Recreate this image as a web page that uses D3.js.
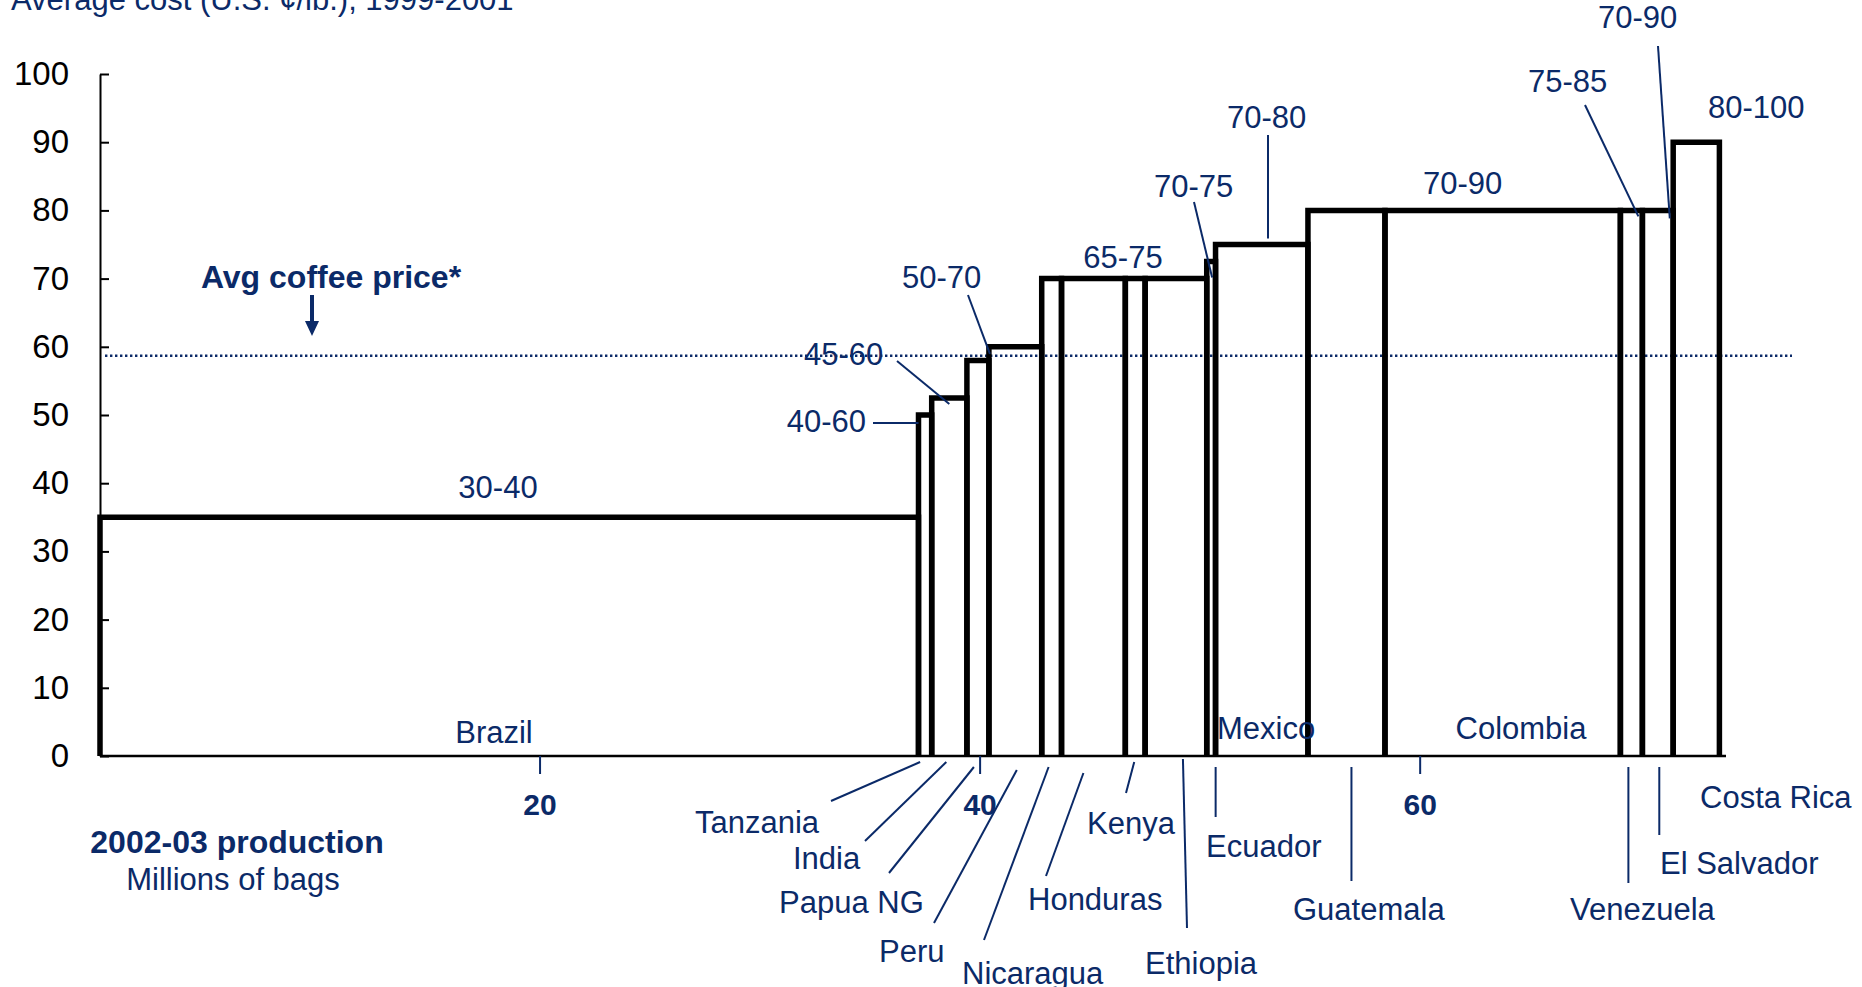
<!DOCTYPE html>
<html>
<head>
<meta charset="utf-8">
<script src="https://cdn.jsdelivr.net/npm/d3@7"></script>
<style>
  html, body { margin: 0; padding: 0; background: #fff; }
  svg { display: block; font-family: "Liberation Sans", Arial, Helvetica, sans-serif; }
</style>
</head>
<body>
<svg id="chart" width="1862" height="987"></svg>
<script>
// Coffee producers, ordered by rising average cost
const countries = ["Brazil", "Tanzania", "India", "Papua NG", "Peru", "Nicaragua", "Honduras",
  "Kenya", "Ethiopia", "Ecuador", "Mexico", "Guatemala", "Colombia", "Venezuela", "El Salvador", "Costa Rica"];
// 2002-03 production, millions of bags (bar widths)
const production = [37.2, 0.6, 1.6, 1.0, 2.4, 0.9, 2.9, 0.9, 2.8, 0.4, 4.2, 3.5, 10.7, 1.0, 1.4, 2.1];
// Average cost, U.S. cents per lb (bar heights = middle of the cost range)
const avgCost = [35, 50, 52.5, 58, 60, 70, 70, 70, 70, 72.5, 75, 80, 80, 80, 80, 90];
// Cost range labels and the producer each one belongs to
const rangeLabels = ["30-40", "40-60", "45-60", "50-70", "65-75", "70-75", "70-80", "70-90", "75-85", "70-90", "80-100"];
const rangeOwners = ["Brazil", "Tanzania", "India", "Peru", "Honduras", "Ecuador", "Mexico", "Colombia", "Venezuela", "El Salvador", "Costa Rica"];
// Average coffee price, U.S. cents per lb
const avgPrice = 58.7;
// Axis ticks
const yTicks = [0, 10, 20, 30, 40, 50, 60, 70, 80, 90, 100];
const xTicks = [20, 40, 60];

const NAVY = "#0b2a68";
const svg = d3.select("#chart");

const x = d3.scaleLinear().domain([0, 73.9]).range([100, 1726]);
const y = d3.scaleLinear().domain([0, 100]).range([756, 74]);

// cumulative production gives each bar's left and right edge
const ends = Array.from(d3.cumsum(production));
const bars = countries.map((c, i) => ({
  country: c,
  x0: i === 0 ? 0 : ends[i - 1],
  x1: ends[i],
  cost: avgCost[i]
}));
const barOf = name => bars.find(b => b.country === name);
const midX = b => x((b.x0 + b.x1) / 2);

// Title (sits partly above the top edge)
svg.append("text")
  .attr("x", 11).attr("y", 9.5)
  .attr("fill", NAVY).attr("font-size", 31)
  .text("Average cost (U.S. \u00a2/lb.), 1999-2001");

// Average price reference line
svg.append("line")
  .attr("x1", 105).attr("x2", 1792)
  .attr("y1", y(avgPrice)).attr("y2", y(avgPrice))
  .attr("stroke", NAVY).attr("stroke-width", 2.5)
  .attr("stroke-dasharray", "2.4,2.6");

svg.append("text")
  .attr("x", 331).attr("y", 288)
  .attr("text-anchor", "middle")
  .attr("fill", NAVY).attr("font-size", 32).attr("font-weight", "bold")
  .text("Avg coffee price*");
svg.append("line")
  .attr("x1", 312).attr("x2", 312).attr("y1", 295).attr("y2", 324)
  .attr("stroke", NAVY).attr("stroke-width", 4);
svg.append("path")
  .attr("d", "M305,321L319,321L312,336Z")
  .attr("fill", NAVY);

// Y axis (ticks point inward)
const yAxis = d3.axisLeft(y).tickValues(yTicks).tickSizeInner(-9).tickSizeOuter(0).tickPadding(31);
const gy = svg.append("g").attr("transform", "translate(100,0)").call(yAxis);
gy.select(".domain").attr("stroke", "#000").attr("stroke-width", 2);
gy.selectAll(".tick line").attr("stroke", "#000").attr("stroke-width", 2);
gy.selectAll(".tick text")
  .attr("font-size", 33).attr("fill", "#000")
  .attr("font-family", "'Liberation Sans', Arial, sans-serif");

// Bars: open outlines standing on the axis
svg.append("g").selectAll("path")
  .data(bars)
  .join("path")
  .attr("d", b => `M${x(b.x0)},${y(0)}V${y(b.cost)}H${x(b.x1)}V${y(0)}`)
  .attr("fill", "none")
  .attr("stroke", "#000")
  .attr("stroke-width", 5.5)
  .attr("stroke-linejoin", "miter");

// X axis baseline
svg.append("line")
  .attr("x1", x(0)).attr("x2", x.range()[1])
  .attr("y1", y(0)).attr("y2", y(0))
  .attr("stroke", "#000").attr("stroke-width", 2.5);

// X ticks and labels
const gx = svg.append("g");
gx.selectAll("line").data(xTicks).join("line")
  .attr("x1", d => x(d)).attr("x2", d => x(d))
  .attr("y1", y(0)).attr("y2", y(0) + 18)
  .attr("stroke", NAVY).attr("stroke-width", 2);
gx.selectAll("text").data(xTicks).join("text")
  .attr("x", d => x(d)).attr("y", 815)
  .attr("text-anchor", "middle")
  .attr("fill", NAVY).attr("font-size", 30).attr("font-weight", "bold")
  .text(d => d);

// X axis title
svg.append("text").attr("x", 237).attr("y", 853).attr("text-anchor", "middle")
  .attr("fill", NAVY).attr("font-size", 32).attr("font-weight", "bold")
  .text("2002-03 production");
svg.append("text").attr("x", 233).attr("y", 890).attr("text-anchor", "middle")
  .attr("fill", NAVY).attr("font-size", 31)
  .text("Millions of bags");

// Cost range labels: text placement and optional leader to the bar
const rangeLayout = [
  { tx: 498, ty: 498, anchor: "middle" },
  { tx: 866, ty: 432, anchor: "end", from: [873, 423], to: b => [x(b.x0), 423] },
  { tx: 804, ty: 365, anchor: "start", from: [897, 361], to: b => [midX(b), y(b.cost) + 6] },
  { tx: 902, ty: 288, anchor: "start", from: [968, 295], to: b => [x(b.x0) + 1, y(b.cost) + 7] },
  { tx: 1123, ty: 268, anchor: "middle" },
  { tx: 1154, ty: 197, anchor: "start", from: [1194, 202], to: b => [midX(b) + 1, y(b.cost) + 16] },
  { tx: 1227, ty: 128, anchor: "start", from: [1268, 135], to: b => [1268, y(b.cost) - 6] },
  { tx: 1423, ty: 194, anchor: "start" },
  { tx: 1528, ty: 92, anchor: "start", from: [1585, 105], to: b => [midX(b) + 7, y(b.cost) + 6] },
  { tx: 1598, ty: 28, anchor: "start", from: [1658, 46], to: b => [midX(b) + 12, y(b.cost) + 8] },
  { tx: 1708, ty: 118, anchor: "start" }
];
const gr = svg.append("g");
rangeLabels.forEach((lab, i) => {
  const L = rangeLayout[i];
  const b = barOf(rangeOwners[i]);
  if (L.from) {
    const t = L.to(b);
    gr.append("line")
      .attr("x1", L.from[0]).attr("y1", L.from[1])
      .attr("x2", t[0]).attr("y2", t[1])
      .attr("stroke", NAVY).attr("stroke-width", 2);
  }
  gr.append("text")
    .attr("x", L.tx).attr("y", L.ty).attr("text-anchor", L.anchor)
    .attr("fill", NAVY).attr("font-size", 31)
    .text(lab);
});

// Country labels: inside the bar or below the axis with a leader
const countryLayout = {
  "Brazil":      { tx: 494, ty: 743, anchor: "middle" },
  "Tanzania":    { tx: 695, ty: 833, from: [831, 801], dx: -5, ey: 762 },
  "India":       { tx: 793, ty: 869, from: [865, 841], dx: -3, ey: 762 },
  "Papua NG":    { tx: 779, ty: 913, from: [889, 873], dx: -4, ey: 767 },
  "Peru":        { tx: 879, ty: 962, from: [934, 923], dx: 1.5, ey: 770 },
  "Nicaragua":   { tx: 962, ty: 984, from: [984, 940], dx: -3, ey: 767 },
  "Honduras":    { tx: 1028, ty: 910, from: [1046, 876], dx: -10, ey: 773 },
  "Kenya":       { tx: 1087, ty: 834, from: [1126, 793], dx: -1, ey: 762 },
  "Ethiopia":    { tx: 1145, ty: 974, from: [1187, 928], dx: 7, ey: 759 },
  "Ecuador":     { tx: 1206, ty: 857, from: null, dx: 4.5, ey: 767, ly: 817 },
  "Mexico":      { tx: 1217, ty: 739, anchor: "start" },
  "Guatemala":   { tx: 1293, ty: 920, from: null, dx: 5, ey: 767, ly: 881 },
  "Colombia":    { tx: 1521, ty: 739, anchor: "middle" },
  "Venezuela":   { tx: 1570, ty: 920, from: null, dx: -3, ey: 767, ly: 883 },
  "El Salvador": { tx: 1660, ty: 874, from: null, dx: 1.5, ey: 767, ly: 835 },
  "Costa Rica":  { tx: 1700, ty: 808 }
};
const gc = svg.append("g");
bars.forEach(b => {
  const L = countryLayout[b.country];
  if (L.dx !== undefined) {
    const ex = midX(b) + L.dx;
    const start = L.from ? L.from : [ex, L.ly];
    gc.append("line")
      .attr("x1", start[0]).attr("y1", start[1])
      .attr("x2", ex).attr("y2", L.ey)
      .attr("stroke", NAVY).attr("stroke-width", 2);
  }
  gc.append("text")
    .attr("x", L.tx).attr("y", L.ty).attr("text-anchor", L.anchor || "start")
    .attr("fill", NAVY).attr("font-size", 31)
    .text(b.country);
});
</script>
</body>
</html>
